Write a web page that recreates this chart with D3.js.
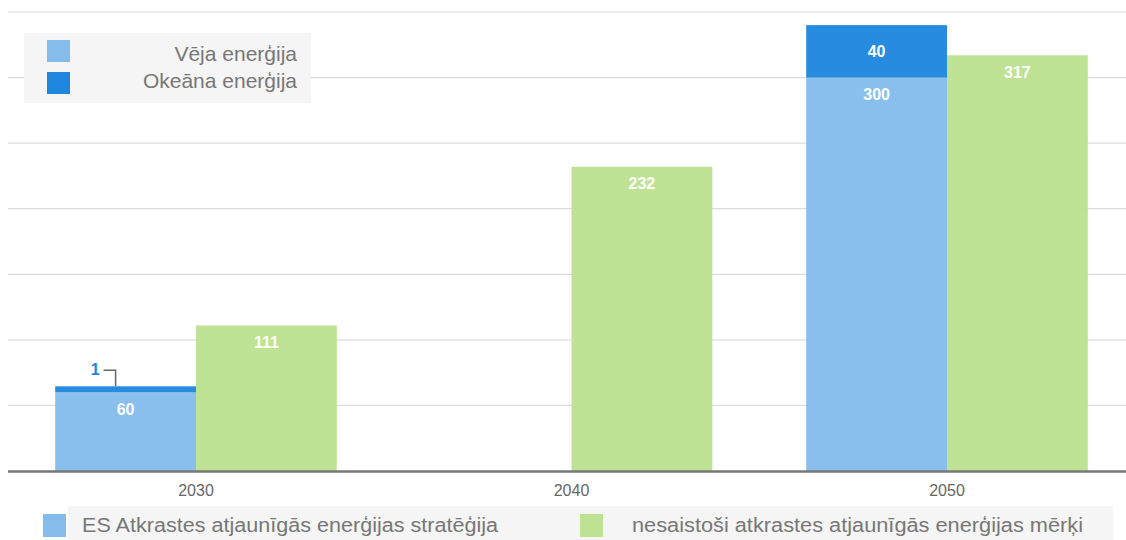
<!DOCTYPE html>
<html>
<head>
<meta charset="utf-8">
<script src="https://cdn.jsdelivr.net/npm/d3@7"></script>
<style>
body{margin:0;background:#fff;}
svg{display:block;font-family:"Liberation Sans",Arial,sans-serif;}
</style>
</head>
<body>
<div id="chart"></div>
<script>
// data
var years=["2030","2040","2050"];
var windES=[60,0,300];      // Vēja enerģija (ES stratēģija)
var oceanES=[1,0,40];       // Okeāna enerģija (ES stratēģija)
var targets=[111,232,317];  // nesaistoši mērķi
var yTicks=[50,100,150,200,250,300,350];
var stackNames=["Vēja enerģija","Okeāna enerģija"];
var seriesNames=["ES Atkrastes atjaunīgās enerģijas stratēģija","nesaistoši atkrastes atjaunīgās enerģijas mērķi"];

var ww=1126,hh=540;
var cLight="#84bdec",cDark="#2087de",cGreen="#bde291";
var base=471,top0=12,left0=8;

var svg=d3.select("#chart").append("svg")
  .attr("width",ww).attr("height",hh);

var x=d3.scaleBand().domain(years).range([8.25,1134.75])
        .paddingInner(0.25).paddingOuter(0.125);
var xs=d3.scaleBand().domain(["es","target"]).range([0,x.bandwidth()]);
var y=d3.scaleLinear().domain([0,350]).range([base,top0]);

// gridlines
svg.selectAll("line.grid").data(yTicks).enter().append("line")
  .attr("class","grid")
  .attr("x1",left0).attr("x2",ww)
  .attr("y1",function(d){return y(d);}).attr("y2",function(d){return y(d);})
  .attr("stroke","#dcdcdc").attr("stroke-width",1.2);

var g=svg.selectAll("g.yr").data(years).enter().append("g")
  .attr("class","yr")
  .attr("transform",function(d){return "translate("+x(d)+",0)";});

// wind (bottom of stack)
g.append("rect")
  .attr("x",xs("es")).attr("width",xs.bandwidth())
  .attr("y",function(d,i){return y(windES[i]);})
  .attr("height",function(d,i){return base-y(windES[i]);})
  .attr("fill",cLight).attr("fill-opacity",0.97);

// ocean (top of stack), thin values kept visible
var minH=6;
g.append("rect")
  .attr("x",xs("es")).attr("width",xs.bandwidth())
  .attr("y",function(d,i){
     if(!oceanES[i])return y(windES[i]);
     var h=Math.max(y(windES[i])-y(windES[i]+oceanES[i]),minH);
     return y(windES[i])-h;})
  .attr("height",function(d,i){
     if(!oceanES[i])return 0;
     return Math.max(y(windES[i])-y(windES[i]+oceanES[i]),minH);})
  .attr("fill",cDark).attr("fill-opacity",0.97);

// targets
g.append("rect")
  .attr("x",xs("target")).attr("width",xs.bandwidth())
  .attr("y",function(d,i){return y(targets[i]);})
  .attr("height",function(d,i){return base-y(targets[i]);})
  .attr("fill",cGreen).attr("fill-opacity",0.97);

// value labels
function lbl(sel,xpos,top,h,txt){
  var cy=h<60?top+h/2:top+17;
  sel.append("text")
    .attr("x",xpos).attr("y",cy).attr("dy",".35em")
    .attr("text-anchor","middle")
    .attr("fill","#fff").attr("font-weight","bold").attr("font-size",16)
    .text(txt);
}
g.each(function(d,i){
  var s=d3.select(this);
  var cx1=xs("es")+xs.bandwidth()/2,cx2=xs("target")+xs.bandwidth()/2;
  if(windES[i])lbl(s,cx1,y(windES[i]),base-y(windES[i]),windES[i]);
  if(oceanES[i]){
    var h=y(windES[i])-y(windES[i]+oceanES[i]);
    if(h>=20){lbl(s,cx1,y(windES[i]+oceanES[i]),h,oceanES[i]);}
    else{
      var tY=y(windES[i])-Math.max(h,minH);
      var lx=cx1-26;
      s.append("text").attr("x",lx).attr("y",tY-17).attr("dy",".35em")
        .attr("text-anchor","end").attr("fill",cDark)
        .attr("font-weight","bold").attr("font-size",16).text(oceanES[i]);
      s.append("path")
        .attr("d","M"+(lx+4)+","+(tY-16)+"H"+(lx+16)+"V"+tY)
        .attr("fill","none").attr("stroke","#666").attr("stroke-width",1.5);
    }
  }
  if(targets[i])lbl(s,cx2,y(targets[i]),base-y(targets[i]),targets[i]);
});

// baseline
svg.append("line")
  .attr("x1",left0).attr("x2",ww).attr("y1",base+0.5).attr("y2",base+0.5)
  .attr("stroke","#777").attr("stroke-width",2.5);

// x axis labels
var ax=svg.append("g").attr("transform","translate(0,"+base+")")
  .call(d3.axisBottom(x).tickSize(0).tickPadding(14));
ax.select(".domain").remove();
ax.selectAll("text").attr("font-size",16).attr("fill","#666")
  .attr("font-family","'Liberation Sans',Arial,sans-serif");

// top legend
var lg=svg.append("g");
lg.append("rect").attr("x",24).attr("y",33).attr("width",287).attr("height",70)
  .attr("fill","#f5f5f5");
lg.selectAll("rect.sw").data(stackNames).enter().append("rect")
  .attr("class","sw").attr("x",47).attr("width",23).attr("height",22)
  .attr("y",function(d,i){return 40+i*32;})
  .attr("fill",function(d,i){return i?cDark:cLight;});
lg.selectAll("text").data(stackNames).enter().append("text")
  .attr("x",297).attr("y",function(d,i){return 61+i*27;})
  .attr("text-anchor","end").attr("font-size",21).attr("fill","#777")
  .text(function(d){return d;});

// bottom legend
var bl=svg.append("g");
bl.append("rect").attr("x",68).attr("y",506).attr("width",1045).attr("height",40)
  .attr("fill","#f5f5f5");
var blX=[43,580],blT=[82,632],blW=[416,451];
bl.selectAll("rect.sw").data(seriesNames).enter().append("rect")
  .attr("class","sw").attr("x",function(d,i){return blX[i];}).attr("y",514)
  .attr("width",23).attr("height",23)
  .attr("fill",function(d,i){return i?cGreen:cLight;});
bl.selectAll("text").data(seriesNames).enter().append("text")
  .attr("x",function(d,i){return blT[i];}).attr("y",532)
  .attr("font-size",20).attr("fill","#777")
  .attr("textLength",function(d,i){return blW[i];})
  .attr("lengthAdjust","spacingAndGlyphs")
  .text(function(d){return d;});
</script>
</body>
</html>
